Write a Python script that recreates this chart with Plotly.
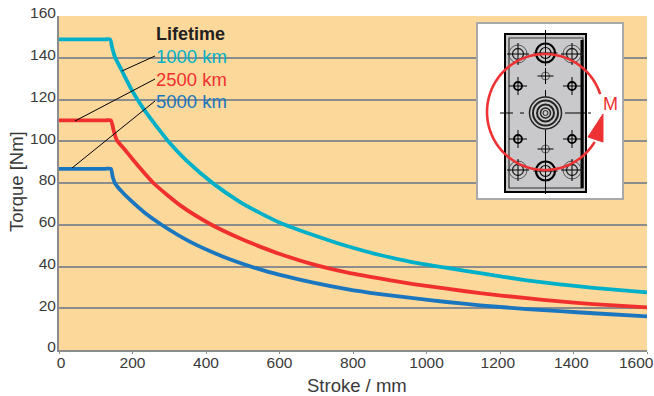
import numpy as np
import plotly.graph_objects as go

stroke_1000 = [0, 125, 139, 145, 152, 172, 198, 232, 266, 302, 347, 420, 492, 540, 601, 692, 783, 873, 964, 1055, 1146, 1273, 1363, 1454, 1600]
torque_1000 = [148.8, 148.8, 148.8, 144.5, 140.5, 133.5, 124.5, 115, 107, 99, 90.7, 79.7, 71, 66.3, 61, 55.1, 49.8, 45.5, 42, 39.4, 36.8, 33.4, 31.4, 29.8, 27.6]
stroke_2500 = [0, 125, 141, 149, 157, 180, 202, 257, 329, 415, 492, 540, 601, 692, 783, 873, 964, 1055, 1146, 1273, 1363, 1454, 1600]
torque_2500 = [110, 110, 110, 105, 100.6, 95.8, 91, 80, 69.4, 60, 53.5, 50, 46, 41, 37.2, 34.3, 31.6, 29.4, 27.2, 24.8, 23.3, 22, 20.4]
stroke_5000 = [0, 125, 141, 146, 152, 170, 193, 235, 279, 356, 447, 538, 601, 692, 783, 873, 964, 1055, 1146, 1273, 1363, 1454, 1600]
torque_5000 = [86.8, 86.8, 86.8, 83, 80, 76, 72, 65.5, 60, 51.9, 44.7, 39.1, 36, 32.3, 29.2, 26.8, 24.8, 23, 21.4, 19.6, 18.6, 17.6, 16.1]
series = [("1000 km", stroke_1000, torque_1000, "#00b0c8"),
          ("2500 km", stroke_2500, torque_2500, "#f0302f"),
          ("5000 km", stroke_5000, torque_5000, "#1a76bf")]
x_ticks = list(range(0, 1601, 200))
NB = "\u00a0"
x_tick_text = [NB + "0", "200", "400", "600", "800", "1000", "1200" + NB, "1400" + NB, ""]
last_x_label = "1600"
y_ticks = list(range(0, 161, 20))

FONT = "Liberation Sans"
L, R, T, B = 59, 647, 16, 350


def px(x):
    return (x - L) / (R - L)


def py(y):
    return (B - y) / (B - T)


def line(x0, y0, x1, y1, color="black", w=1.0):
    return dict(type="line", xref="paper", yref="paper", x0=px(x0), y0=py(y0), x1=px(x1), y1=py(y1),
                line=dict(color=color, width=w), layer="above")


def rect(x0, y0, x1, y1, fill, color, w):
    return dict(type="rect", xref="paper", yref="paper", x0=px(x0), y0=py(y0), x1=px(x1), y1=py(y1),
                fillcolor=fill, line=dict(color=color, width=w), layer="above")


def circ(cx, cy, r, color="black", w=1.0, fill="rgba(0,0,0,0)"):
    return dict(type="circle", xref="paper", yref="paper", x0=px(cx - r), y0=py(cy - r), x1=px(cx + r), y1=py(cy + r),
                fillcolor=fill, line=dict(color=color, width=w), layer="above")


def poly(points, color, w, fill=None):
    d = "M " + " L ".join(f"{px(a):.5f},{py(b):.5f}" for a, b in points)
    if fill:
        d += " Z"
    return dict(type="path", xref="paper", yref="paper", path=d, fillcolor=fill or "rgba(0,0,0,0)",
                line=dict(color=color, width=w), layer="above")


fig = go.Figure()
for name, xs, vals, color in series:
    fig.add_trace(go.Scatter(x=xs, y=vals, mode="lines", name=name, cliponaxis=False,
                             line=dict(color=color, width=3.8, shape="spline", smoothing=0.6)))

C = 545.5
shapes = [
    line(155, 56, 122, 71), line(155, 79, 75, 121), line(155, 101, 72, 168),
    rect(477, 23, 623, 199, "white", "#a9a9a9", 2),
    rect(505, 34, 586, 192, "#c9c9cb", "black", 2),
    rect(509, 38, 583, 188, "rgba(0,0,0,0)", "#333333", 1.2),
    line(582, 40, 582, 188, "black", 3),
    line(C, 30, C, 56, "black", 1), line(C, 68, C, 84, "black", 1), line(C, 90, C, 97, "black", 1),
    line(C, 130, C, 158, "black", 1), line(C, 178, C, 194, "black", 1),
    line(500, 113, 513, 113, "black", 1), line(520, 113, 524, 113, "black", 1),
    line(565, 113, 585, 113, "black", 1), line(588, 113, 591, 113, "black", 1),
]
for r, w in [(16, 1.5), (12.5, 2), (8.5, 2), (5, 1.5), (2.5, 1)]:
    shapes.append(circ(C, 113, r, "#222222", w))
for cx, cy in [(C, 53), (C, 171)]:
    shapes += [circ(cx, cy, 9.5, "black", 2.2), circ(cx, cy, 5.5, "black", 1.2),
               line(cx - 12, cy, cx + 12, cy, "black", 1), line(cx, cy - 13, cx, cy + 13, "black", 1)]
for cx, cy in [(518, 54), (572, 54), (518, 170), (572, 170)]:
    shapes += [circ(cx, cy, 9, "#555555", 1), circ(cx, cy, 5.5, "#222222", 1.3),
               line(cx - 11, cy, cx + 11, cy, "black", 1), line(cx, cy - 11, cx, cy + 11, "black", 1)]
for cx, cy in [(518, 86), (572, 86), (518, 139), (572, 139)]:
    shapes += [circ(cx, cy, 4, "black", 1.8),
               line(cx - 9, cy, cx + 9, cy, "black", 1), line(cx, cy - 9, cx, cy + 9, "black", 1)]
for cx, cy in [(C, 76), (C, 149)]:
    shapes += [circ(cx, cy, 4, "#555555", 1),
               line(cx - 8, cy, cx + 8, cy, "black", 1), line(cx, cy - 8, cx, cy + 8, "black", 1)]
theta = np.radians(np.linspace(-18, -329, 90))
arc = [(545 + 58 * np.cos(t), 112 + 58 * np.sin(t)) for t in theta]
shapes.append(poly(arc, "#ee3233", 2.6))
shapes.append(poly([(603, 114), (588, 137), (603, 142)], "#ee3233", 1, fill="#ee3233"))

annos = [
    dict(text="<b>Lifetime</b>", x=px(153.5), y=py(34), color="#231f20", size=18),
    dict(text="1000 km", x=px(153.5), y=py(56.5), color=series[0][3], size=18.5),
    dict(text="2500 km", x=px(153.5), y=py(79), color=series[1][3], size=18.5),
    dict(text="5000 km", x=px(153.5), y=py(101.5), color=series[2][3], size=18.5),
    dict(text="M", x=px(601), y=py(104.5), color="#ee3233", size=18),
]
annotations = [dict(xref="paper", yref="paper", x=a["x"], y=a["y"], text=a["text"], showarrow=False,
                    xanchor="left", yanchor="middle", font=dict(family=FONT, size=a["size"], color=a["color"])) for a in annos]
annotations.append(dict(xref="paper", yref="paper", x=px(357), y=py(385), text="Stroke / mm", showarrow=False,
                        xanchor="center", yanchor="middle", font=dict(family=FONT, size=18.5, color="#3a3a3a")))
annotations.append(dict(xref="paper", yref="paper", x=px(16), y=py(182), text="Torque [Nm]", showarrow=False, textangle=-90,
                        xanchor="center", yanchor="middle", font=dict(family=FONT, size=18.5, color="#3a3a3a")))
annotations.append(dict(xref="paper", yref="paper", x=px(636.5), y=py(362), text=last_x_label, showarrow=False,
                        xanchor="center", yanchor="middle", font=dict(family=FONT, size=15.5, color="#3a3a3a")))

fig.update_layout(
    width=654, height=396, autosize=False, showlegend=False,
    margin=dict(l=L, r=654 - R, t=T, b=396 - B, autoexpand=False),
    plot_bgcolor="#fdd89b", paper_bgcolor="white",
    shapes=shapes, annotations=annotations,
    font=dict(family=FONT, size=15.5, color="#3a3a3a"),
    xaxis=dict(range=[0, 1600], tickvals=x_ticks, ticktext=x_tick_text, showgrid=False, showline=True, linecolor="#8c8c8c", linewidth=2,
               ticks="outside", ticklen=2, tickwidth=1, tickcolor="#8c8c8c", zeroline=False,
               ticklabeloverflow="allow", ticklabelstandoff=-5),
    yaxis=dict(range=[0, 160], tickvals=y_ticks, showgrid=True, gridcolor="#8c8c8c", gridwidth=2, showline=True,
               linecolor="#8c8c8c", linewidth=2, ticks="", zeroline=False, ticklabelstandoff=-2, ticklabelshift=-3,
               ticklabeloverflow="allow"),
)
fig.write_html("out.html", post_script="document.body.style.margin='0';", config={"displayModeBar": False})
